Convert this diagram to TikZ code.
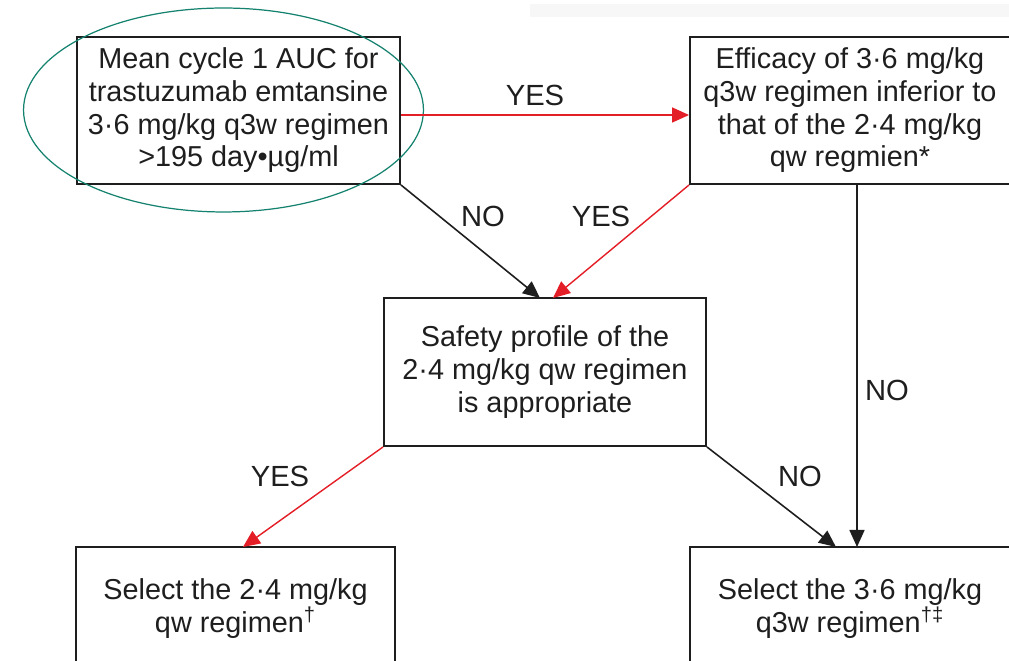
\documentclass[tikz,border=0pt]{standalone}
\usepackage{fontspec}
\setmainfont{Liberation Sans}
\usetikzlibrary{arrows.meta}
\definecolor{ink}{RGB}{30,30,30}
\definecolor{redarr}{RGB}{228,30,38}
\definecolor{teal}{RGB}{20,130,110}
\tikzset{
  box/.style={draw=ink, line width=1.1pt, fill=white, align=center, text=ink,
    font=\fontsize{16.4}{18.6}\selectfont, inner sep=0pt},
  lbl/.style={text=ink, font=\fontsize{16.6}{18}\selectfont, inner sep=1pt},
  yesarr/.style={draw=redarr, line width=0.8pt, -{Triangle[length=0.34cm,width=0.3cm]}},
  noarr/.style={draw=ink, line width=0.9pt, -{Triangle[length=0.34cm,width=0.3cm]}},
}
\begin{document}
\begin{tikzpicture}[x=0.02cm,y=-0.02cm]
\useasboundingbox (0,0) rectangle (1009,661);
\clip (0,0) rectangle (1009,661);
\fill[gray!6] (530,4) rectangle (1009,17);
\node[box, minimum width=6.46cm, minimum height=2.94cm] (A) at (238.5,110.5)
  {Mean cycle 1 AUC for\\trastuzumab emtansine\\3·6 mg/kg q3w regimen\\>195 day•µg/ml};
\node[box, minimum width=6.4cm, minimum height=2.94cm] (B) at (850,110.5)
  {Efficacy of 3·6 mg/kg\\q3w regimen inferior to\\that of the 2·4 mg/kg\\qw regmien*};
\node[box, minimum width=6.44cm, minimum height=2.96cm] (C) at (545,372)
  {Safety profile of the\\2·4 mg/kg qw regimen\\is appropriate};
\node[box, minimum width=6.38cm, minimum height=2.46cm] (D) at (235.5,608.5)
  {Select the 2·4 mg/kg\\qw regimen\textsuperscript{†}};
\node[box, minimum width=6.4cm, minimum height=2.46cm] (E) at (850,608.5)
  {Select the 3·6 mg/kg\\q3w regimen\textsuperscript{†‡}};
\draw[teal, line width=0.7pt] (223.5,110) ellipse [x radius=4cm, y radius=2.04cm];
\coordinate (cTopL) at (540,298);
\coordinate (cTopR) at (553,298);
\coordinate (dTop) at (243,547);
\coordinate (eTopL) at (836,547);
\coordinate (eTopR) at (857,547);
\coordinate (bBot) at (857,184);
\draw[yesarr] ([yshift=-0.09cm]A.east) -- ([yshift=-0.09cm]B.west);
\draw[noarr] (A.south east) -- (cTopL);
\draw[yesarr] (B.south west) -- (cTopR);
\draw[noarr] (bBot) -- (eTopR);
\draw[yesarr] (C.south west) -- (dTop);
\draw[noarr] (C.south east) -- (eTopL);
\node[lbl] (l1) at (535,95) {YES};
\node[lbl] (l2) at (483,216) {NO};
\node[lbl] (l3) at (601,216) {YES};
\node[lbl] (l4) at (887,390) {NO};
\node[lbl] (l5) at (280,476) {YES};
\node[lbl] (l6) at (800,476) {NO};
\end{tikzpicture}
\end{document}
